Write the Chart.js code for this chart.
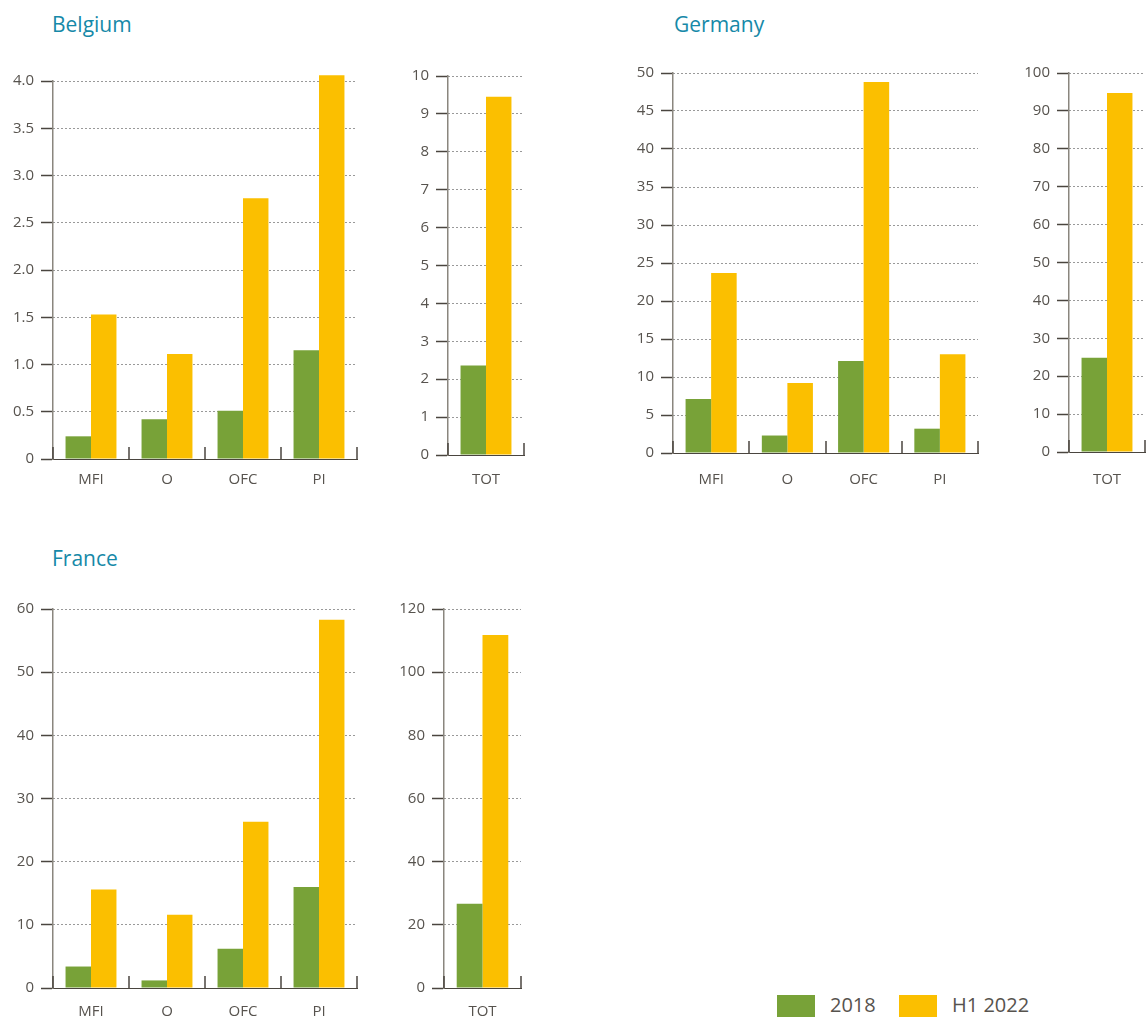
<!DOCTYPE html>
<html>
<head>
<meta charset="utf-8">
<title>Belgium, Germany, France</title>
<script src="https://cdn.jsdelivr.net/npm/chart.js"></script>
<style>
  body { margin: 0; width: 1147px; height: 1017px; position: relative; overflow: hidden; background: #fff; font-family: "Open Sans", sans-serif; }
  .titulo { position: absolute; margin: 0; font-size: 21px; line-height: 26px; font-weight: 500; color: #1689a8; }
  canvas { position: absolute; }
  .caja { position: absolute; top: 995px; width: 38px; height: 22px; }
  .texto { position: absolute; top: 992px; font-size: 20px; line-height: 26px; color: #57534e; }
</style>
</head>
<body>

<div class="titulo" style="left:52px;top:11px">Belgium</div>
<div class="titulo" style="left:674px;top:11px">Germany</div>
<div class="titulo" style="left:52px;top:545px">France</div>

<div class="caja" style="left:777px;background:#78a238"></div>
<div class="texto" style="left:830px">2018</div>
<div class="caja" style="left:899px;background:#fbbf00"></div>
<div class="texto" style="left:952px">H1 2022</div>

<script>
// Datos
const categorias = ['MFI', 'O', 'OFC', 'PI'];
const total = ['TOT'];
const series = ['2018', 'H1 2022'];

const belgica2018 = [0.24, 0.42, 0.51, 1.15];
const belgicaH1 = [1.53, 1.11, 2.76, 4.06];
const belgicaTot2018 = [2.36];
const belgicaTotH1 = [9.45];

const alemania2018 = [7.1, 2.3, 12.1, 3.2];
const alemaniaH1 = [23.7, 9.2, 48.8, 13.0];
const alemaniaTot2018 = [24.9];
const alemaniaTotH1 = [94.7];

const francia2018 = [3.4, 1.2, 6.2, 16.0];
const franciaH1 = [15.6, 11.6, 26.3, 58.3];
const franciaTot2018 = [26.7];
const franciaTotH1 = [111.8];

const verde = '#78a238';
const amarillo = '#fbbf00';
const textoColor = '#57534e';

// marcas verticales en los limites de cada categoria
const separadores = {
  id: 'separadores',
  afterDraw(chart) {
    const x = chart.scales.x, y = chart.scales.y;
    const ctx = chart.ctx;
    const n = chart.data.labels.length;
    const paso = (x.right - x.left) / n;
    const base = y.getPixelForValue(0);
    ctx.save();
    ctx.strokeStyle = '#4a453f';
    ctx.lineWidth = 1.5;
    for (let i = 0; i <= n; i++) {
      const px = Math.round(x.left + paso * i);
      ctx.beginPath();
      ctx.moveTo(px, base);
      ctx.lineTo(px, base - 12);
      ctx.stroke();
    }
    ctx.restore();
  }
};

// area = borde del area del grafico en la pagina, sep = espacio hasta las etiquetas
function crearGrafico(etiquetas, d2018, dH1, max, paso, decimales, area, sep) {
  const canvas = document.createElement('canvas');
  const ancho = (area.r - area.l) + 53 + 14;
  const alto = (area.b - area.t) + 20 + 45;
  canvas.width = ancho;
  canvas.height = alto;
  canvas.style.left = (area.l - 53) + 'px';
  canvas.style.top = (area.t - 20) + 'px';
  document.body.appendChild(canvas);

  new Chart(canvas.getContext('2d'), {
    type: 'bar',
    data: {
      labels: etiquetas,
      datasets: [
        { label: series[0], data: d2018, backgroundColor: verde, clip: false },
        { label: series[1], data: dH1, backgroundColor: amarillo, clip: false }
      ]
    },
    options: {
      responsive: false,
      animation: false,
      categoryPercentage: 0.67,
      barPercentage: 1.0,
      layout: { padding: { top: 20, right: 14, bottom: 0, left: 0 } },
      plugins: { legend: { display: false }, tooltip: { enabled: false } },
      scales: {
        x: {
          afterFit(s) { s.height = 45; },
          grid: { display: false, drawTicks: false },
          border: { display: true, color: '#4a453f', width: 1 },
          ticks: { color: textoColor, padding: sep, font: { family: 'Open Sans', size: 15 } }
        },
        y: {
          min: 0,
          max: max,
          afterFit(s) { s.width = 53; },
          grid: {
            color: '#333333',
            lineWidth: 1,
            tickLength: 12,
            tickColor: '#4a453f',
            tickWidth: 1.5,
            tickBorderDash: []
          },
          border: { display: true, color: '#8a867e', width: 1.5, dash: [1, 3] },
          ticks: {
            stepSize: paso,
            padding: 7,
            color: textoColor,
            font: { family: 'Open Sans', size: 15 },
            callback: v => v === 0 ? '0' : v.toFixed(decimales)
          }
        }
      }
    },
    plugins: [separadores]
  });
}

crearGrafico(categorias, belgica2018, belgicaH1, 4, 0.5, 1, { l: 53, t: 81, r: 357, b: 459 }, 12);
crearGrafico(total, belgicaTot2018, belgicaTotH1, 10, 1, 0, { l: 448, t: 76, r: 524, b: 455 }, 16);
crearGrafico(categorias, alemania2018, alemaniaH1, 50, 5, 0, { l: 673, t: 73, r: 978, b: 453 }, 18);
crearGrafico(total, alemaniaTot2018, alemaniaTotH1, 100, 10, 0, { l: 1069, t: 73, r: 1145, b: 452 }, 19);
crearGrafico(categorias, francia2018, franciaH1, 60, 10, 0, { l: 53, t: 609, r: 357, b: 988 }, 15);
crearGrafico(total, franciaTot2018, franciaTotH1, 120, 20, 0, { l: 444, t: 609, r: 521, b: 988 }, 15);
</script>
</body>
</html>
